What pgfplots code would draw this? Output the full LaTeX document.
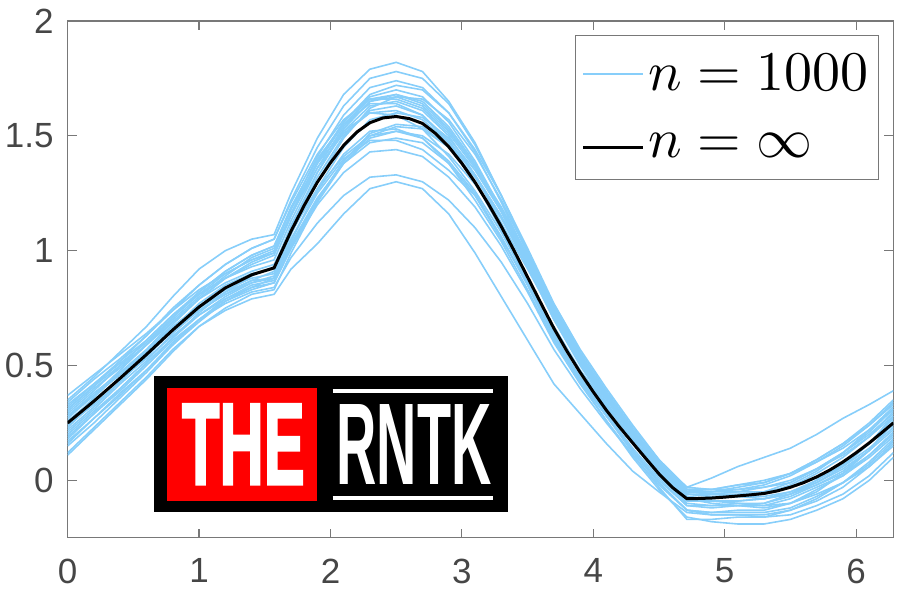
\documentclass[border=0pt]{standalone}
\usepackage{fontspec}
\usepackage{pgfplots}
\pgfplotsset{compat=1.18}
\usepackage{pgfplotstable}
\usetikzlibrary{calc}
\newfontfamily\arial{Liberation Sans}
\newfontfamily\logofont[BoldFeatures={FakeBold=2.5}]{Liberation Sans}
\definecolor{sky}{RGB}{135,206,250}
\definecolor{axgray}{RGB}{120,120,120}
\definecolor{labgray}{RGB}{70,70,70}

\pgfplotstableread{
x      c1    c2    c3    c4    c5    c6    c7    c8    c9    c10   c11   c12   c13   c14   c15   c16   c17   c18
0      0.35  0.31  0.12  0.17  0.37  0.11  0.30  0.21  0.27  0.23  0.33  0.18  0.25  0.15  0.28  0.20  0.32  0.26
0.2    0.45  0.41  0.23  0.27  0.46  0.22  0.40  0.31  0.37  0.34  0.42  0.29  0.36  0.25  0.38  0.30  0.42  0.35
0.4    0.56  0.52  0.34  0.38  0.55  0.33  0.49  0.42  0.48  0.45  0.51  0.39  0.47  0.36  0.47  0.40  0.52  0.44
0.6    0.67  0.63  0.45  0.48  0.64  0.44  0.59  0.52  0.59  0.56  0.60  0.50  0.57  0.47  0.56  0.51  0.61  0.53
0.8    0.80  0.75  0.57  0.60  0.74  0.56  0.69  0.64  0.71  0.67  0.71  0.61  0.69  0.59  0.66  0.62  0.72  0.63
1.0    0.92  0.85  0.67  0.70  0.83  0.67  0.79  0.74  0.82  0.76  0.81  0.70  0.79  0.70  0.75  0.73  0.82  0.72
1.2    1.00  0.94  0.74  0.77  0.90  0.75  0.88  0.81  0.91  0.83  0.90  0.78  0.88  0.79  0.82  0.82  0.91  0.80
1.4    1.05  1.01  0.79  0.82  0.96  0.81  0.95  0.86  0.98  0.88  0.96  0.83  0.94  0.85  0.87  0.89  0.98  0.86
1.5708 1.07  1.05  0.81  0.84  0.99  0.83  0.99  0.88  1.02  0.90  1.00  0.86  0.98  0.87  0.88  0.93  1.02  0.89
1.7    1.25  1.22  0.92  0.97  1.16  0.99  1.16  1.03  1.19  1.07  1.16  1.01  1.15  1.04  1.02  1.11  1.18  1.05
1.9    1.49  1.45  1.03  1.12  1.38  1.21  1.39  1.23  1.40  1.30  1.36  1.20  1.38  1.27  1.22  1.34  1.38  1.25
2.1    1.68  1.63  1.16  1.24  1.55  1.38  1.56  1.38  1.55  1.49  1.51  1.34  1.56  1.45  1.39  1.52  1.52  1.40
2.3    1.79  1.75  1.27  1.32  1.66  1.49  1.67  1.47  1.64  1.62  1.60  1.43  1.68  1.57  1.50  1.63  1.60  1.48
2.5    1.82  1.78  1.30  1.33  1.68  1.52  1.70  1.49  1.64  1.67  1.61  1.44  1.72  1.60  1.54  1.65  1.59  1.48
2.7    1.78  1.75  1.27  1.30  1.64  1.49  1.67  1.47  1.59  1.66  1.57  1.41  1.70  1.58  1.53  1.61  1.53  1.44
2.9    1.65  1.64  1.16  1.22  1.53  1.39  1.56  1.38  1.48  1.57  1.47  1.32  1.60  1.49  1.45  1.50  1.41  1.35
3.1    1.47  1.46  0.99  1.10  1.37  1.25  1.39  1.24  1.33  1.42  1.33  1.19  1.44  1.35  1.32  1.33  1.26  1.24
3.3    1.24  1.24  0.80  0.95  1.17  1.06  1.18  1.06  1.15  1.22  1.15  1.02  1.24  1.17  1.14  1.12  1.08  1.05
3.5    0.99  1.00  0.61  0.77  0.95  0.85  0.95  0.85  0.94  0.99  0.94  0.82  1.01  0.96  0.93  0.88  0.87  0.86
3.7    0.74  0.76  0.42  0.57  0.71  0.62  0.71  0.63  0.72  0.75  0.72  0.60  0.77  0.73  0.70  0.64  0.65  0.67
3.9    0.53  0.56  0.29  0.40  0.52  0.43  0.51  0.44  0.53  0.55  0.54  0.42  0.57  0.54  0.51  0.44  0.47  0.48
4.1    0.36  0.39  0.16  0.25  0.36  0.26  0.35  0.28  0.36  0.38  0.38  0.26  0.40  0.37  0.34  0.28  0.32  0.33
4.3    0.20  0.23  0.04  0.11  0.21  0.10  0.19  0.12  0.20  0.22  0.22  0.11  0.24  0.21  0.18  0.13  0.18  0.18
4.5    0.06  0.09  -0.05 -0.02 0.08  -0.04 0.06  -0.01 0.06  0.08  0.08  -0.03 0.09  0.06  0.04  0.00  0.05  0.04
4.7124 -0.05 -0.03 -0.14 -0.13 -0.03 -0.16 -0.06 -0.13 -0.06 -0.04 -0.04 -0.17 -0.04 -0.07 -0.08 -0.11 -0.06 -0.08
4.9    -0.05 -0.04 -0.15 -0.14 0.01  -0.18 -0.06 -0.14 -0.07 -0.05 -0.04 -0.17 -0.06 -0.09 -0.09 -0.11 -0.07 -0.10
5.1    -0.03 -0.04 -0.15 -0.14 0.06  -0.19 -0.06 -0.13 -0.07 -0.05 -0.02 -0.16 -0.07 -0.10 -0.09 -0.10 -0.07 -0.11
5.3    -0.01 -0.03 -0.16 -0.14 0.10  -0.19 -0.05 -0.13 -0.07 -0.05 0.00  -0.16 -0.08 -0.11 -0.08 -0.10 -0.06 -0.12
5.5    0.03  -0.01 -0.15 -0.12 0.14  -0.17 -0.03 -0.10 -0.05 -0.03 0.03  -0.13 -0.06 -0.10 -0.06 -0.07 -0.02 -0.10
5.7    0.09  0.05  -0.11 -0.07 0.20  -0.13 0.03  -0.04 0.00  0.01  0.09  -0.08 -0.02 -0.06 -0.01 -0.02 0.04  -0.05
5.9    0.16  0.12  -0.06 -0.01 0.27  -0.08 0.10  0.02  0.07  0.06  0.16  -0.01 0.04  -0.01 0.06  0.03  0.12  0.03
6.1    0.25  0.21  0.02  0.07  0.33  0.00  0.19  0.11  0.16  0.14  0.24  0.08  0.13  0.06  0.16  0.11  0.22  0.13
6.2832 0.35  0.31  0.12  0.17  0.39  0.10  0.30  0.21  0.27  0.23  0.33  0.18  0.25  0.15  0.28  0.20  0.32  0.26
}\samples

\pgfplotstableread{
x      c19   c20   c21   c22   c23   c24   c25   c26
0      0.29  0.19  0.34  0.24  0.22  0.28  0.16  0.31
0.2    0.39  0.29  0.44  0.33  0.32  0.37  0.27  0.41
0.4    0.50  0.40  0.53  0.43  0.43  0.46  0.37  0.50
0.6    0.61  0.51  0.63  0.54  0.54  0.56  0.48  0.59
0.8    0.72  0.62  0.74  0.66  0.65  0.68  0.59  0.70
1.0    0.81  0.72  0.85  0.77  0.74  0.79  0.69  0.80
1.2    0.88  0.79  0.94  0.85  0.81  0.86  0.78  0.89
1.4    0.93  0.84  1.01  0.90  0.87  0.91  0.84  0.97
1.5708 0.96  0.86  1.05  0.92  0.91  0.94  0.88  1.01
1.7    1.13  1.01  1.21  1.09  1.10  1.08  1.05  1.18
1.9    1.36  1.22  1.42  1.32  1.34  1.27  1.26  1.41
2.1    1.54  1.39  1.57  1.50  1.53  1.41  1.42  1.59
2.3    1.65  1.51  1.66  1.61  1.65  1.50  1.52  1.71
2.5    1.67  1.55  1.66  1.63  1.68  1.52  1.53  1.74
2.7    1.63  1.54  1.62  1.59  1.65  1.50  1.49  1.71
2.9    1.52  1.45  1.51  1.47  1.54  1.42  1.38  1.60
3.1    1.37  1.30  1.36  1.30  1.38  1.29  1.22  1.43
3.3    1.19  1.10  1.18  1.09  1.17  1.12  1.04  1.21
3.5    0.98  0.87  0.97  0.86  0.94  0.92  0.83  0.97
3.7    0.75  0.63  0.74  0.63  0.70  0.71  0.61  0.72
3.9    0.55  0.44  0.54  0.45  0.50  0.53  0.43  0.52
4.1    0.37  0.29  0.37  0.30  0.33  0.37  0.28  0.36
4.3    0.20  0.14  0.21  0.16  0.17  0.21  0.13  0.21
4.5    0.05  0.01  0.07  0.02  0.03  0.07  -0.01 0.08
4.7124 -0.07 -0.11 -0.05 -0.10 -0.09 -0.05 -0.13 -0.04
4.9    -0.08 -0.12 -0.05 -0.11 -0.09 -0.06 -0.15 -0.04
5.1    -0.07 -0.11 -0.04 -0.11 -0.09 -0.05 -0.15 -0.02
5.3    -0.05 -0.11 -0.02 -0.10 -0.08 -0.03 -0.15 -0.01
5.5    -0.01 -0.08 0.02  -0.06 -0.05 0.00  -0.13 0.03
5.7    0.05  -0.03 0.08  0.00  -0.01 0.05  -0.09 0.08
5.9    0.12  0.02  0.15  0.07  0.05  0.11  -0.03 0.14
6.1    0.20  0.10  0.24  0.16  0.13  0.19  0.06  0.22
6.2832 0.29  0.19  0.34  0.24  0.22  0.28  0.16  0.31
}\samplesb

\pgfplotstableread{
x      y
0      0.250
0.2    0.345
0.4    0.445
0.6    0.548
0.8    0.655
1.0    0.755
1.2    0.838
1.4    0.895
1.5708 0.925
1.7    1.085
1.8    1.197
1.9    1.298
2.0    1.383
2.1    1.458
2.2    1.516
2.3    1.557
2.4    1.578
2.5    1.584
2.6    1.575
2.7    1.554
2.8    1.510
2.9    1.452
3.0    1.380
3.1    1.298
3.2    1.205
3.3    1.105
3.4    0.997
3.5    0.885
3.6    0.773
3.7    0.662
3.8    0.562
3.9    0.470
4.0    0.385
4.1    0.305
4.2    0.232
4.3    0.163
4.4    0.095
4.5    0.028
4.6    -0.030
4.7124 -0.080
4.8    -0.079
4.9    -0.077
5.0    -0.073
5.1    -0.068
5.2    -0.063
5.3    -0.057
5.4    -0.046
5.5    -0.030
5.6    -0.010
5.7    0.015
5.8    0.045
5.9    0.080
6.0    0.120
6.1    0.163
6.2    0.210
6.2832 0.250
}\limitcurve

\begin{document}
\begin{tikzpicture}
\begin{axis}[
  name=ax,
  scale only axis, width=413pt, height=258.5pt,
  xmin=0, xmax=6.2832, ymin=-0.25, ymax=2,
  xtick={0,1,2,3,4,5,6}, ytick={0,0.5,1,1.5,2},
  tick align=inside, major tick length=4.5pt,
  axis line style={axgray, line width=0.6pt},
  every tick/.style={axgray, line width=0.6pt},
  tick label style={font=\arial\fontsize{17.5}{20}\selectfont, text=labgray},
  /pgf/number format/assume math mode=true,
  xticklabel style={yshift=-7pt},
  yticklabel style={xshift=-3.5pt},
  legend style={at={(1,1)}, anchor=north east, xshift=-7pt, yshift=-7pt,
    draw=axgray, line width=0.6pt, fill=white,
    inner xsep=3pt, inner ysep=7.5pt, row sep=16pt,
    cells={anchor=west}},
  legend image code/.code={\draw[#1] (0pt,0pt) -- (30pt,0pt);},
  legend cell align=left,
  blue line/.style={sky, line width=0.8pt},
]
\addplot[blue line] table[x=x, y=c1] {\samples};
\addlegendentry{\scalebox{2.8}{$n=1000$}}
\addplot[blue line, forget plot] table[x=x, y=c2] {\samples};
\addplot[blue line, forget plot] table[x=x, y=c3] {\samples};
\addplot[blue line, forget plot] table[x=x, y=c4] {\samples};
\addplot[blue line, forget plot] table[x=x, y=c5] {\samples};
\addplot[blue line, forget plot] table[x=x, y=c6] {\samples};
\addplot[blue line, forget plot] table[x=x, y=c7] {\samples};
\addplot[blue line, forget plot] table[x=x, y=c8] {\samples};
\addplot[blue line, forget plot] table[x=x, y=c9] {\samples};
\addplot[blue line, forget plot] table[x=x, y=c10] {\samples};
\addplot[blue line, forget plot] table[x=x, y=c11] {\samples};
\addplot[blue line, forget plot] table[x=x, y=c12] {\samples};
\addplot[blue line, forget plot] table[x=x, y=c13] {\samples};
\addplot[blue line, forget plot] table[x=x, y=c14] {\samples};
\addplot[blue line, forget plot] table[x=x, y=c15] {\samples};
\addplot[blue line, forget plot] table[x=x, y=c16] {\samples};
\addplot[blue line, forget plot] table[x=x, y=c17] {\samples};
\addplot[blue line, forget plot] table[x=x, y=c18] {\samples};
\addplot[blue line, forget plot] table[x=x, y=c19] {\samplesb};
\addplot[blue line, forget plot] table[x=x, y=c20] {\samplesb};
\addplot[blue line, forget plot] table[x=x, y=c21] {\samplesb};
\addplot[blue line, forget plot] table[x=x, y=c22] {\samplesb};
\addplot[blue line, forget plot] table[x=x, y=c23] {\samplesb};
\addplot[blue line, forget plot] table[x=x, y=c24] {\samplesb};
\addplot[blue line, forget plot] table[x=x, y=c25] {\samplesb};
\addplot[blue line, forget plot] table[x=x, y=c26] {\samplesb};
\addplot[black, line width=1.5pt] table[x=x, y=y] {\limitcurve};
\addlegendentry{\scalebox{2.8}{$n=\infty$}}

% logo
\fill[black] (axis cs:0.656,-0.1395) rectangle (axis cs:3.348,0.4535);
\fill[red] (axis cs:0.755,-0.0916) rectangle (axis cs:1.896,0.401);
\node[text=white, inner sep=0pt] at (axis cs:1.337,0.157) {\resizebox{61.5pt}{40pt}{\logofont\bfseries THE}};
\node[text=white, inner sep=0pt] at (axis cs:2.637,0.157) {\resizebox{77.5pt}{40pt}{\arial\bfseries RNTK}};
\draw[white, line width=2pt] (axis cs:2.017,0.388) -- (axis cs:3.234,0.388);
\draw[white, line width=2pt] (axis cs:2.017,-0.0785) -- (axis cs:3.234,-0.0785);
\end{axis}
\pgfresetboundingbox
\path[use as bounding box] ($(ax.south west)+(-33.85pt,-30.85pt)$) rectangle ($(ax.north east)+(3.35pt,10.5pt)$);
\end{tikzpicture}
\end{document}
